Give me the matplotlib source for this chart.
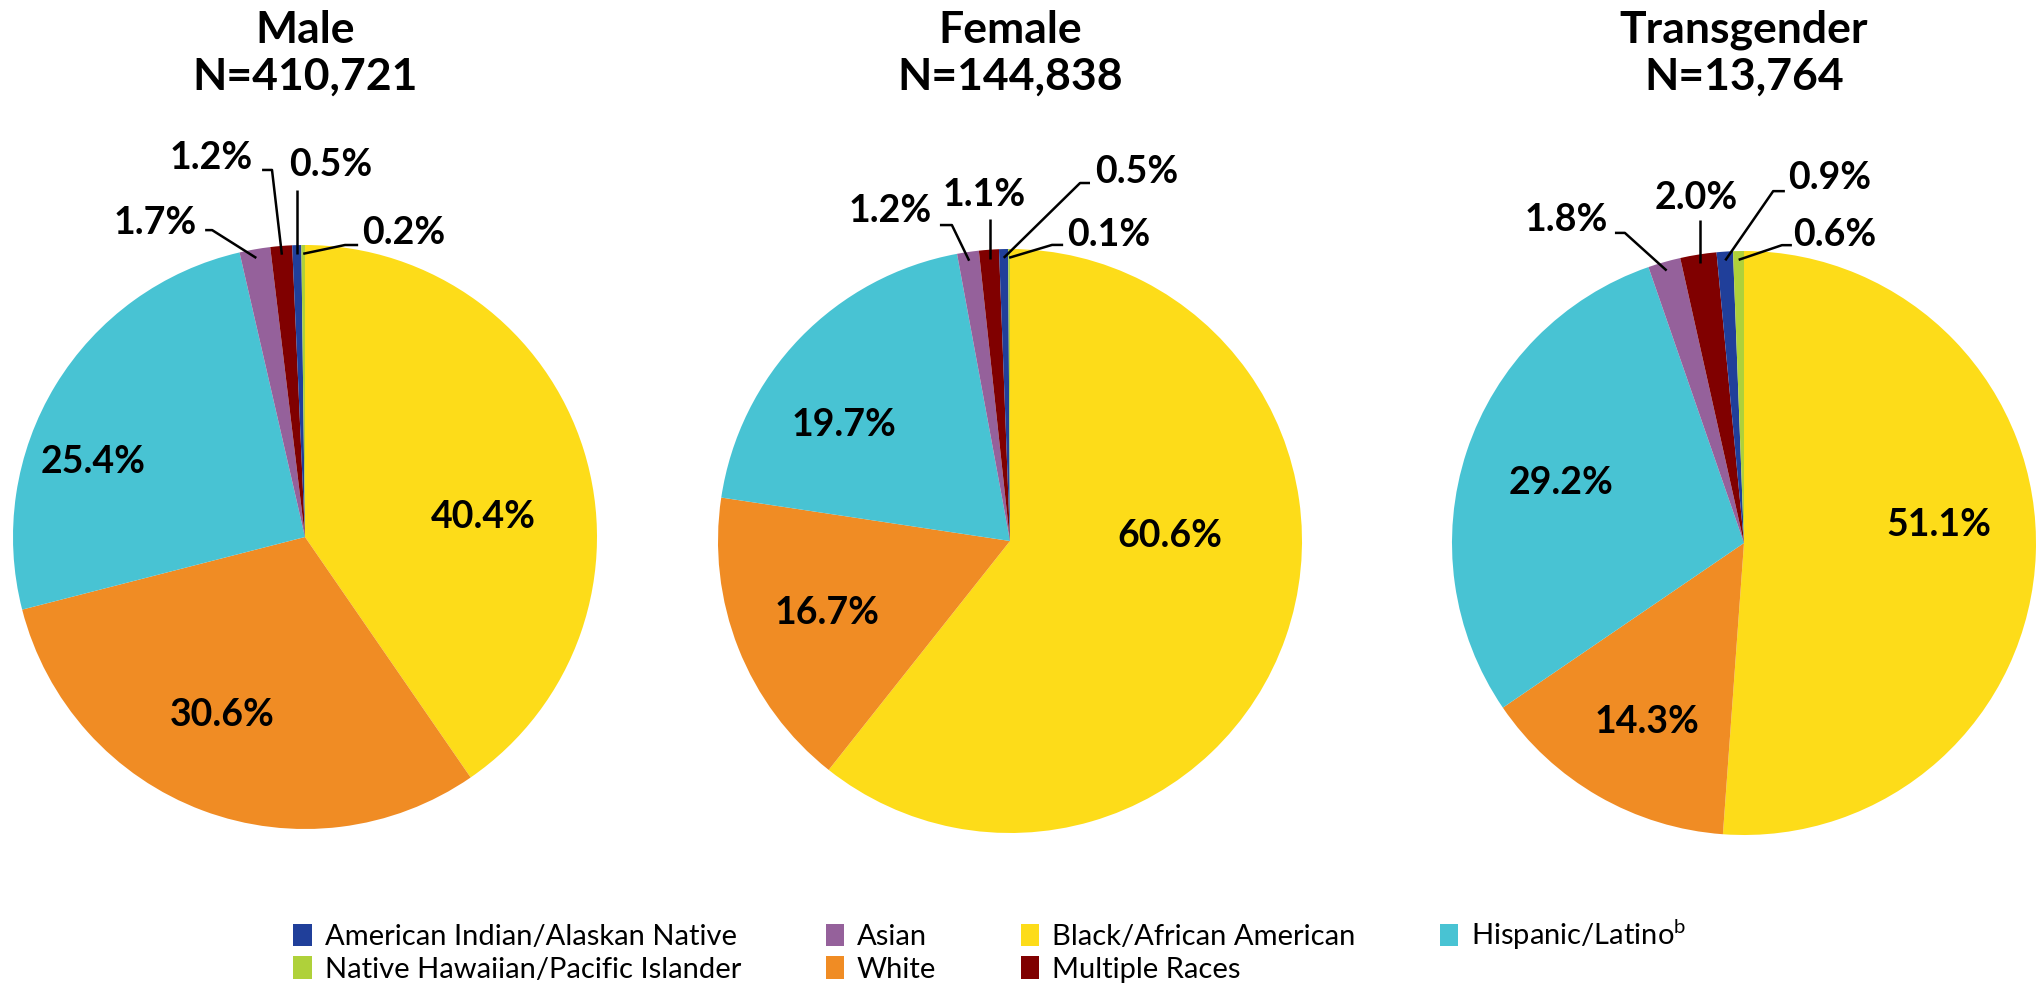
import matplotlib
matplotlib.use("Agg")
import matplotlib.pyplot as plt
import numpy as np
from matplotlib.patches import Patch

plt.rcParams['font.family'] = ['Lato', 'DejaVu Sans']
plt.rcParams['mathtext.fontset'] = 'custom'
plt.rcParams['mathtext.rm'] = 'Lato'

# === DADOS ===
categorias = ['Black/African American', 'White', 'Hispanic/Latino$^{\\mathrm{b}}$', 'Asian',
              'Multiple Races', 'American Indian/Alaskan Native',
              'Native Hawaiian/Pacific Islander']
cores = ['#FDDC19', '#F08C24', '#48C3D3', '#95619B', '#800000', '#203F9A', '#AFD13A']

titulos = ['Male\nN=410,721', 'Female\nN=144,838', 'Transgender\nN=13,764']
male = [40.4, 30.6, 25.4, 1.7, 1.2, 0.5, 0.2]
female = [60.6, 16.7, 19.7, 1.2, 1.1, 0.5, 0.1]
trans = [51.1, 14.3, 29.2, 1.8, 2.0, 0.9, 0.6]
valores = [male, female, trans]

# === LAYOUT (pixels / unidades de raio) ===
W, H = 2036, 994
R = 292
centros = [(305, 537), (1010, 541), (1744, 543)]
LIM = 1.4

# rótulos internos (u, v)
pos_dentro = [
    [(0.61, 0.068), (-0.284, -0.61), (-0.726, 0.257)],
    [(0.548, 0.017), (-0.627, -0.247), (-0.568, 0.397)],
    [(0.668, 0.062), (-0.332, -0.613), (-0.627, 0.205)],
]
# rótulos externos: (texto u, v, ha, inicio u, v, cotovelo u, v)
pos_fora = [
    [(-0.37, 1.075, 'right', -0.342, 1.051, -0.318, 1.051),
     (-0.178, 1.298, 'right', -0.147, 1.257, -0.113, 1.257),
     (0.089, 1.274, 'center', None, 1.188, None, 1.188),
     (0.195, 1.041, 'left', 0.182, 1.0, 0.137, 1.0)],
    [(-0.267, 1.13, 'right', -0.24, 1.082, -0.199, 1.082),
     (-0.089, 1.185, 'center', None, 1.103, None, 1.103),
     (0.291, 1.264, 'left', 0.274, 1.226, 0.24, 1.226),
     (0.195, 1.048, 'left', 0.182, 1.014, 0.144, 1.014)],
    [(-0.466, 1.106, 'right', -0.442, 1.062, -0.408, 1.062),
     (-0.164, 1.182, 'center', None, 1.106, None, 1.106),
     (0.151, 1.25, 'left', 0.14, 1.205, 0.1, 1.205),
     (0.168, 1.055, 'left', 0.164, 1.02, 0.13, 1.02)],
]

fig = plt.figure(figsize=(W / 100, H / 100), dpi=100)

for i, (vals, (cx, cy)) in enumerate(zip(valores, centros)):
    meia = LIM * R
    ax = fig.add_axes([(cx - meia) / W, (H - cy - meia) / H, 2 * meia / W, 2 * meia / H])
    wedges, _ = ax.pie(vals, colors=cores, startangle=90, counterclock=False, radius=1,
                       wedgeprops=dict(linewidth=0))
    # pie() mexe nos limites, então define depois
    ax.set_xlim(-LIM, LIM)
    ax.set_ylim(-LIM, LIM)
    ax.set_aspect('equal')
    ax.axis('off')

    ax.text(0, (cy - 53) / R, titulos[i], ha='center', va='center', fontsize=32,
            fontweight='bold', linespacing=1.2)

    # rótulos grandes
    for j in range(3):
        u, v = pos_dentro[i][j]
        ax.text(u, v, f'{vals[j]:.1f}%', ha='center', va='center', fontsize=27, fontweight='bold')

    # rótulos pequenos com linhas
    for k, j in enumerate(range(3, 7)):
        w = wedges[j]
        ang = np.deg2rad((w.theta1 + w.theta2) / 2)
        ex, ey = 0.97 * np.cos(ang), 0.97 * np.sin(ang)
        tu, tv, ha, su, sv, eu, ev = pos_fora[i][k]
        if su is None:
            su, eu = ex, ex
        ax.plot([su, eu, ex], [sv, ev, ey], color='black', lw=1.8, clip_on=False,
                solid_capstyle='butt')
        ax.text(tu, tv, f'{vals[j]:.1f}%', ha=ha, va='center', fontsize=27, fontweight='bold')

# === LEGENDA ===
ordem = [5, 6, 3, 1, 0, 4, 2]
handles = [Patch(facecolor=cores[j]) for j in ordem]
labels = [categorias[j] for j in ordem]
fig.legend(handles, labels, loc='center', bbox_to_anchor=(990 / W, 1 - 950 / H), ncol=4,
           frameon=False, fontsize=21, handlelength=0.62, handleheight=0.8,
           handletextpad=0.45, labelspacing=0.2, columnspacing=2.9)

fig.savefig('out.png', dpi=100)
